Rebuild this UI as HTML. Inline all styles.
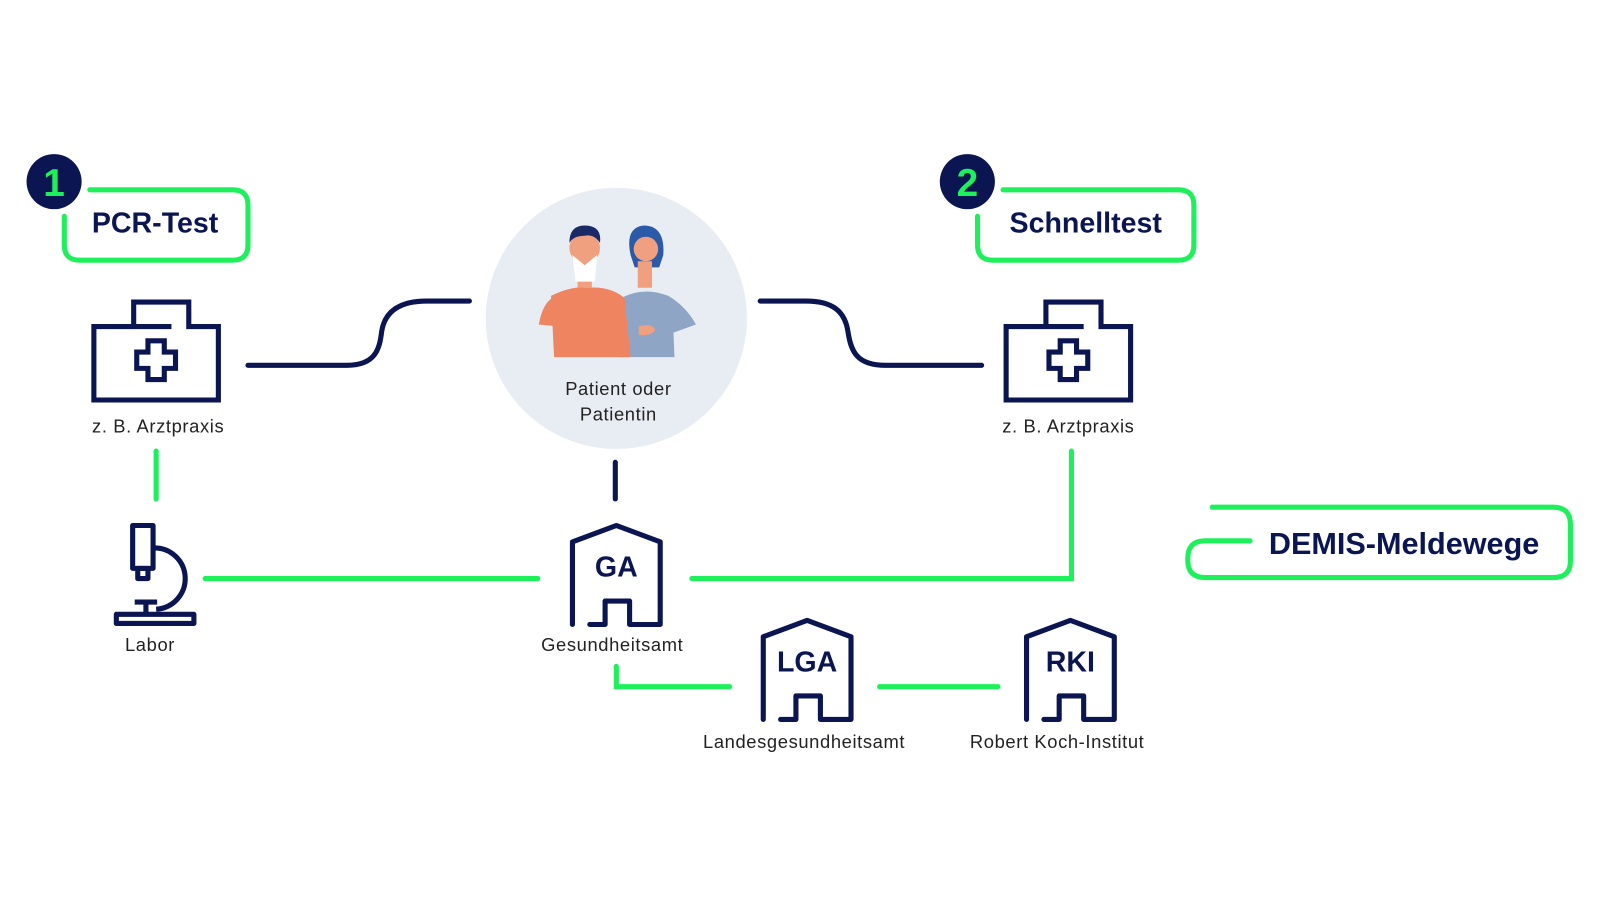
<!DOCTYPE html>
<html><head><meta charset="utf-8"><style>
html,body{margin:0;padding:0;background:#fff;}
svg{display:block;}
text{font-family:"Liberation Sans",sans-serif;}
.lbl{letter-spacing:0.6px;}
</style></head><body>
<svg width="1600" height="900" viewBox="0 0 1568 882" xmlns="http://www.w3.org/2000/svg">
<defs>
<g id="kit" fill="none" stroke="#0a1551" stroke-width="5" stroke-linejoin="miter">
  <path d="M168 320 H92 V392 H214 V320 H185 V296 H131 V320"/>
  <path d="M145 334 h16 v11 h11 v16 h-11 v11 h-16 v-11 h-11 v-16 h11 z" stroke-width="5"/>
</g>
<g id="bld" fill="none" stroke="#0a1551" stroke-width="5" stroke-linecap="round" stroke-linejoin="round">
  <path d="M0 95 V14 L43 -2 L86 14 V95 H56 V72 H32 V95 H17"/>
</g>
</defs>

<circle cx="604" cy="312" r="128" fill="#e8edf3"/>
<!-- people -->
<path d="M607 293 Q630 280 655 290 Q672 300 682 318 L660 326 L661 350 H606 Z" fill="#8fa5c6"/>
<path d="M618 250 Q612 222 632 221 Q652 222 650 250 L646 262 L622 262 Z" fill="#2a5aa8"/>
<rect x="625" y="256" width="14" height="26" fill="#f0a07e"/>
<circle cx="633" cy="244" r="12" fill="#f0a07e"/>
<path d="M540 290 Q560 280 575 282 Q598 280 612 292 L618 350 H543 Z" fill="#ef8461"/>
<path d="M528 318 Q532 295 545 290 L548 320 Z" fill="#ef8461"/>
<rect x="566" y="256" width="14" height="26" fill="#f0a07e"/>
<circle cx="573" cy="243" r="15" fill="#f0a07e"/>
<path d="M558 238 Q558 221 573 221 Q590 221 588 238 Q582 229 573 231 Q562 231 558 238Z" fill="#1a2a66"/>
<path d="M561 250 L573 260 L585 250 L583 276 L564 276 Z" fill="#fff"/>
<path d="M626 320 Q640 316 642 324 Q636 330 626 328 Z" fill="#f0a07e"/>
<text class="lbl" x="606" y="387" font-size="18" fill="#222" text-anchor="middle">Patient oder</text>
<text class="lbl" x="606" y="412" font-size="18" fill="#222" text-anchor="middle">Patientin</text>

<g fill="none" stroke="#1ef05c" stroke-width="5" stroke-linecap="round">
  <path d="M88 186 H228 Q243 186 243 201 V240 Q243 255 228 255 H78 Q63 255 63 240 V212"/>
  <path d="M983 186 H1155 Q1170 186 1170 201 V240 Q1170 255 1155 255 H973 Q958 255 958 240 V212"/>
  <path d="M1188 497 H1522 Q1539 497 1539 514 V550 Q1539 566 1522 566 H1181 Q1164 566 1164 549 V547 Q1164 530 1181 530 H1225"/>
  <path d="M153 442 V489"/>
  <path d="M201 567 H527"/>
  <path d="M678 567 H1050 V442"/>
  <path d="M604 653 V673 H715"/>
  <path d="M862 673 H978"/>
</g>
<circle cx="53" cy="178" r="27" fill="#0a1551"/>
<text x="53" y="192" font-size="38" font-weight="bold" fill="#1ef05c" text-anchor="middle">1</text>
<circle cx="948" cy="178" r="27" fill="#0a1551"/>
<text x="948" y="192" font-size="38" font-weight="bold" fill="#1ef05c" text-anchor="middle">2</text>
<text x="152" y="228" font-size="28" font-weight="bold" fill="#0a1551" text-anchor="middle">PCR-Test</text>
<text x="1064" y="228" font-size="28" font-weight="bold" fill="#0a1551" text-anchor="middle">Schnelltest</text>
<text x="1376" y="543" font-size="30" font-weight="bold" fill="#0a1551" text-anchor="middle">DEMIS-Meldewege</text>

<use href="#kit"/>
<use href="#kit" transform="translate(894,0)"/>
<text class="lbl" x="155" y="424" font-size="18" fill="#222" text-anchor="middle">z. B. Arztpraxis</text>
<text class="lbl" x="1047" y="424" font-size="18" fill="#222" text-anchor="middle">z. B. Arztpraxis</text>

<g fill="none" stroke="#0a1551" stroke-width="5" stroke-linecap="round">
  <path d="M243 358 H340 C368 358 372 342 374 325 C377 305 392 295 418 295 H460"/>
  <path d="M745 295 H790 C816 295 828 305 831 325 C834 345 840 358 868 358 H962"/>
  <path d="M603 453 V489"/>
</g>

<g fill="none" stroke="#0a1551" stroke-width="5" stroke-linejoin="round">
  <rect x="130" y="515" width="20" height="42"/>
  <rect x="135" y="557" width="10" height="10"/>
  <path d="M150 537 A30 30 0 0 1 153 597"/>
  <path d="M132 590 H154 M143 590 V602"/>
  <rect x="114" y="602" width="76" height="9"/>
</g>
<text class="lbl" x="147" y="638" font-size="18" fill="#222" text-anchor="middle">Labor</text>

<use href="#bld" transform="translate(561,517)"/>
<use href="#bld" transform="translate(748,610)"/>
<use href="#bld" transform="translate(1006,610)"/>
<text x="604" y="565" font-size="28" font-weight="bold" fill="#0a1551" text-anchor="middle">GA</text>
<text x="791" y="658" font-size="28" font-weight="bold" fill="#0a1551" text-anchor="middle">LGA</text>
<text x="1049" y="658" font-size="28" font-weight="bold" fill="#0a1551" text-anchor="middle">RKI</text>
<text class="lbl" x="600" y="638" font-size="18" fill="#222" text-anchor="middle">Gesundheitsamt</text>
<text class="lbl" x="788" y="733" font-size="18" fill="#222" text-anchor="middle">Landesgesundheitsamt</text>
<text class="lbl" x="1036" y="733" font-size="18" fill="#222" text-anchor="middle">Robert Koch-Institut</text>
</svg>
</body></html>
